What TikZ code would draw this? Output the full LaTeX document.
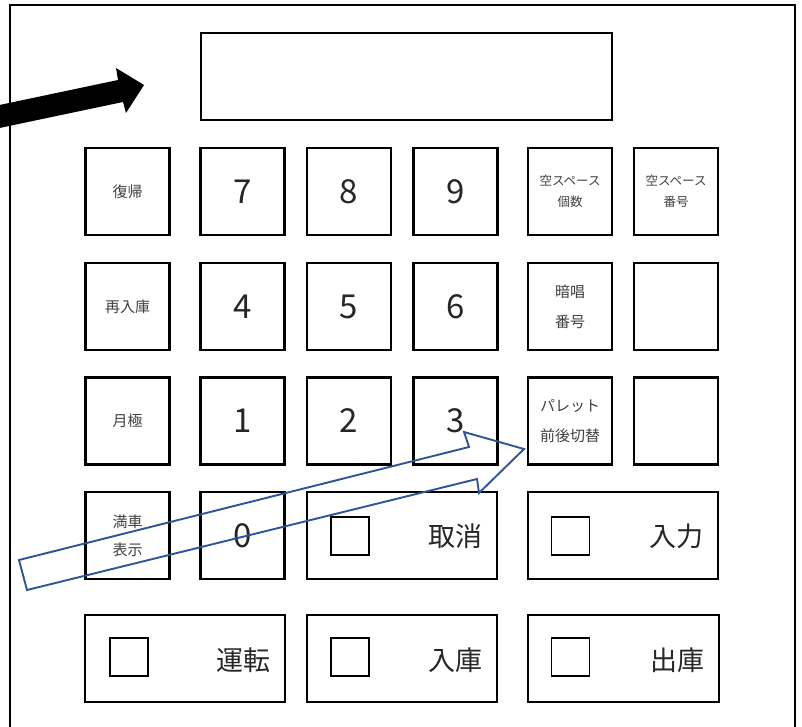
\documentclass[tikz,border=0pt]{standalone}
\usepackage{fontspec}
\setmainfont{Noto Sans CJK JP}
\definecolor{arrowblue}{HTML}{2F5597}
\definecolor{txt}{HTML}{262626}
\definecolor{lbl}{HTML}{404040}
\begin{document}
\begin{tikzpicture}[x=1pt,y=-1pt,
  key/.style={draw=black,line width=2.2pt,minimum width=84pt,minimum height=87pt,inner sep=0pt,text=txt},
  wide/.style={key,minimum width=190pt},
  digit/.style={font=\fontsize{33}{33}\selectfont},
  small/.style={font=\fontsize{15}{26}\selectfont,align=center,text=lbl},
  tiny/.style={font=\fontsize{12.5}{21}\selectfont,align=center,text=lbl},
  big/.style={text=txt,inner sep=0pt,font=\fontsize{27}{27}\selectfont},
  lamp/.style={draw=black,line width=1.6pt,minimum width=38pt,minimum height=38pt,inner sep=0pt}]
\useasboundingbox (0,0) rectangle (802,727);
\clip (0,0) rectangle (802,727);
\fill[white] (0,0) rectangle (802,727);
% outer frame
\draw[line width=1.3pt] (10,740) -- (10,5) -- (795,5) -- (795,740);
% display
\node[key,minimum width=411pt] (disp) at (406.5,76.5) {};
% row 1
\node[key,small] (fukki) at (127.5,191.5) {復帰};
\node[key,digit] (k7) at (242.5,191.5) {7};
\node[key,digit] (k8) at (349,191.5) {8};
\node[key,digit] (k9) at (455.5,191.5) {9};
\node[key,tiny] (akikosu) at (570,191.5) {空スペース\\個数};
\node[key,tiny] (akibango) at (676,191.5) {空スペース\\番号};
% row 2
\node[key,small] (sainyuko) at (127.5,306.5) {再入庫};
\node[key,digit] (k4) at (242.5,306.5) {4};
\node[key,digit] (k5) at (349,306.5) {5};
\node[key,digit] (k6) at (455.5,306.5) {6};
\node[key,small,font=\fontsize{15}{30}\selectfont] (ansho) at (570,306.5) {暗唱\\番号};
\node[key] (blank1) at (676,306.5) {};
% row 3
\node[key,small] (tsukigime) at (127.5,421) {月極};
\node[key,digit] (k1) at (242.5,421) {1};
\node[key,digit] (k2) at (349,421) {2};
\node[key,digit] (k3) at (455.5,421) {3};
\node[key,small,font=\fontsize{15}{30}\selectfont] (pallet) at (570,421) {パレット\\前後切替};
\node[key] (blank2) at (676,421) {};
% row 4
\node[key,small,font=\fontsize{15}{28}\selectfont] (mansha) at (127.5,535.5) {満車\\表示};
\node[key,digit] (k0) at (242.5,535.5) {0};
\node[wide] (torikeshi) at (402,535.5) {};
\node[lamp] (l1) at (350,536) {};
\node[big] (t1) at (455,536) {取消};
\node[wide] (nyuryoku) at (623,535.5) {};
\node[lamp] (l2) at (570.5,536) {};
\node[big] (t2) at (676,536) {入力};
% row 5
\node[key,minimum width=200pt] (unten) at (185,658.5) {};
\node[lamp] (l3) at (129,657) {};
\node[big] (t3) at (243,660) {運転};
\node[wide] (nyuko) at (402,658.5) {};
\node[lamp] (l4) at (350,657) {};
\node[big] (t4) at (455,660) {入庫};
\node[wide,minimum width=191pt] (shukko) at (623.5,658.5) {};
\node[lamp] (l5) at (570.5,657) {};
\node[big] (t5) at (677,660) {出庫};
% black arrow
\fill[black] (-10,107) -- (118,80) -- (116,68) -- (144,85) -- (126,113) -- (123,102) -- (-10,130) -- cycle;
% blue outline arrow
\draw[arrowblue,line width=1.9pt,line join=miter] (19,560) -- (469,447) -- (464,432) -- (524,449) -- (479,493) -- (477,479) -- (27,590) -- cycle;
\end{tikzpicture}
\end{document}
